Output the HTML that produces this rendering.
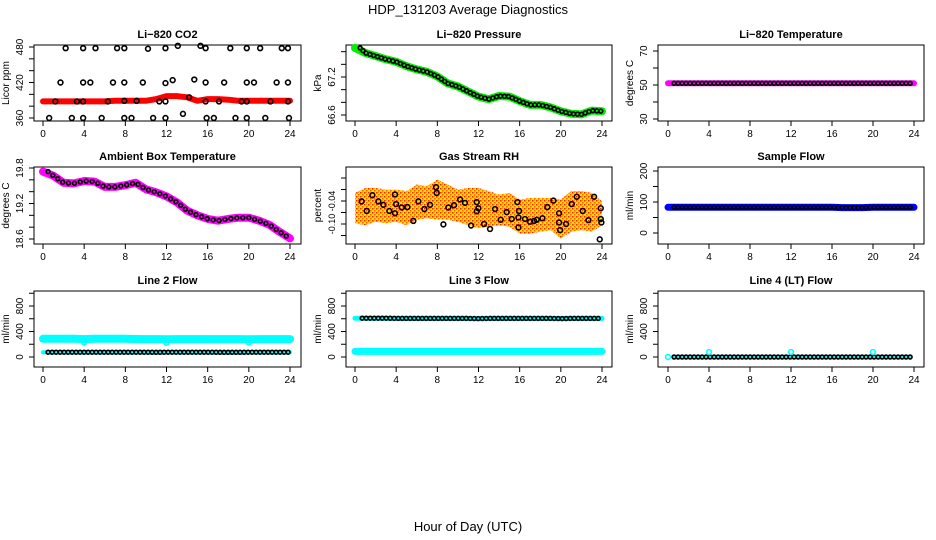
<!DOCTYPE html>
<html><head><meta charset="utf-8"><style>
body{margin:0;background:#fff}
svg{display:block;font-family:"Liberation Sans",sans-serif}
</style></head><body>
<svg id="c" width="936" height="540" viewBox="0 0 936 540">
<defs>
<pattern id="rhpat" width="4" height="4" patternUnits="userSpaceOnUse"><rect width="4" height="4" fill="#ffe000"/><rect x="0" y="0" width="1.5" height="1.5" fill="#ff2000"/><rect x="2" y="2" width="1.5" height="1.5" fill="#ff6000"/><rect x="2" y="0" width="1" height="1" fill="#ffa000"/></pattern>
</defs>
<text x="468" y="14" font-size="13" text-anchor="middle">HDP_131203  Average Diagnostics</text>
<text x="468" y="531" font-size="13" text-anchor="middle">Hour of Day (UTC)</text>
</svg>
<script>
// ---------- data ----------
const hours = [0,1,2,3,4,5,6,7,8,9,10,11,12,13,14,15,16,17,18,19,20,21,22,23,24];
const co2Band = [388,388,388,388,388,388,388,389,389,389,389,392,397,397,395,389,392,392,391,389,389,389,389,389,389];
const co2PtsH = [2.2,3.9,5.1,7.2,7.9,10.2,11.9,13.1,15.3,15.8,18.2,19.8,21.1,23.2,23.8, 1.7,3.9,4.6,6.8,7.9,9.7,11.9,12.6,14.7,15.8,17.6,19.8,20.5,22.7,23.8, 1.2,3.3,3.9,6.3,7.9,9.1,11.3,11.9,14.2,15.8,17.1,19.3,19.8,22.1,23.8, 0.6,2.8,3.9,5.7,7.9,8.6,10.7,11.9,13.6,15.9,16.6,18.7,19.8,21.6,23.9];
const co2PtsV = [478,478,478,478,478,477,478,482,482,478,478,478,478,478,478, 420,420,420,420,420,420,419,424,425,420,420,420,420,420,420, 388,388,388,388,389,389,388,388,395,388,388,388,388,388,388, 360,360,360,360,360,360,360,360,367,360,360,360,360,360,360];
const pressure = [67.66,67.58,67.53,67.48,67.44,67.37,67.32,67.28,67.21,67.10,67.05,66.97,66.89,66.85,66.90,66.89,66.82,66.76,66.76,66.72,66.66,66.62,66.61,66.67,66.66];
const liTemp = [51,51,51,51,51,51,51,51,51,51,51,51,51,51,51,51,51,51,51,51,51,51,51,51,51];
const ambient = [19.74,19.67,19.55,19.54,19.58,19.57,19.48,19.48,19.51,19.55,19.44,19.39,19.32,19.22,19.08,19.00,18.94,18.91,18.94,18.96,18.96,18.91,18.84,18.72,18.61];
const rhUpper = [-0.019,-0.006,-0.006,-0.010,-0.010,-0.014,0.003,-0.001,0.016,0.003,-0.010,-0.006,-0.006,-0.014,-0.023,-0.019,-0.036,-0.032,-0.032,-0.032,-0.036,-0.014,-0.014,-0.019,-0.041];
const rhLower = [-0.098,-0.103,-0.094,-0.098,-0.094,-0.103,-0.089,-0.085,-0.089,-0.089,-0.094,-0.103,-0.111,-0.107,-0.103,-0.107,-0.125,-0.125,-0.120,-0.116,-0.138,-0.120,-0.116,-0.120,-0.103];
const rhPtsH = [0.65,1.14,1.69,2.27,2.76,3.34,3.89,3.89,3.99,4.54,5.09,5.67,6.16,6.74,7.29,7.87,7.94,8.59,9.07,9.62,10.21,10.69,11.28,11.83,11.83,11.99,12.54,13.12,13.61,14.16,14.74,15.23,15.78,15.88,15.94,15.88,16.52,17.01,17.40,17.66,18.21,18.69,19.28,19.83,19.83,19.93,20.51,21.06,21.55,22.13,22.68,23.23,23.88,23.88,23.94,23.78];
const rhPtsV = [-0.041,-0.066,-0.025,-0.041,-0.050,-0.066,-0.023,-0.072,-0.048,-0.057,-0.056,-0.092,-0.041,-0.061,-0.050,-0.004,-0.019,-0.101,-0.057,-0.051,-0.036,-0.045,-0.104,-0.043,-0.067,-0.059,-0.100,-0.113,-0.061,-0.089,-0.069,-0.087,-0.043,-0.109,-0.066,-0.083,-0.087,-0.094,-0.092,-0.089,-0.085,-0.056,-0.039,-0.072,-0.096,-0.116,-0.100,-0.048,-0.029,-0.066,-0.090,-0.029,-0.059,-0.087,-0.096,-0.140];
const sampleFlow = [83,83,83,83,83,83,83,83,83,83,83,83,83,83,83,83,83,82,82,82,83,83,83,83,83];
const line2Cyan = [285,285,285,285,280,285,285,285,285,283,280,280,278,280,280,280,280,280,280,280,278,280,280,280,280];
const line2Black = [75,75,75,75,75,75,75,75,75,75,75,73,75,75,75,75,75,73,73,73,75,75,75,75,75];
const line3Upper = [608,608,608,608,605,605,605,605,605,605,605,605,603,605,605,605,605,605,605,605,603,605,605,605,605];
const line3Lower = [88,88,88,88,88,88,88,88,88,88,88,88,88,88,88,88,88,88,88,88,88,88,88,88,88];
const line4Black = [0,0,0,0,0,0,0,0,0,0,0,0,0,0,0,0,0,0,0,0,0,0,0,0,0];
const line4CyanH = [0,4,12,20];
const line4CyanV = [0,78,78,78];
const line2DipH = [4,12,20];
const line2DipV = [230,225,228];
const xTicks = [0,4,8,12,16,20,24];

// ---------- drawing ----------
const svg = document.getElementById('c');
const NS = 'http://www.w3.org/2000/svg';
function mk(tag, at, parent){const e=document.createElementNS(NS,tag);for(const k in at)e.setAttribute(k,at[k]);(parent||svg).appendChild(e);return e;}
const cols=[{bl:34,br:301,x0:43,x1:290},{bl:346,br:612,x0:355,x1:602},{bl:658,br:924,x0:668,x1:914}];
const rows=[{bt:45,bb:121,ty:38},{bt:167,bb:244,ty:160},{bt:291,bb:367,ty:284}];

function panel(name,c,r,title,ylab,ya,ticks,labels,lfs){
  const C=cols[c],R=rows[r];
  const g=mk('g',{});
  
  
  const xm=h=>C.x0+(C.x1-C.x0)*h/24;
  const ym=v=>ya[1]+(v-ya[0])*(ya[3]-ya[1])/(ya[2]-ya[0]);
  const t=mk('text',{x:(C.bl+C.br)/2,y:R.ty,'font-size':11,'font-weight':'bold','text-anchor':'middle'},g);t.textContent=title;
  
  
  const box=mk('rect',{x:C.bl,y:R.bt,width:C.br-C.bl,height:R.bb-R.bt,fill:'none',stroke:'#000','stroke-width':1},g);
  
  
  xTicks.forEach(h=>{
    mk('line',{x1:xm(h),x2:xm(h),y1:R.bb,y2:R.bb+5,stroke:'#000'},g);
    const l=mk('text',{x:xm(h),y:R.bb+16,'font-size':10,'text-anchor':'middle'},g);l.textContent=h;
    
    
  });
  ticks.forEach(v=>{
    mk('line',{x1:C.bl-5,x2:C.bl,y1:ym(v),y2:ym(v),stroke:'#000'},g);
  });
  labels.forEach(v=>{
    const x=C.bl-11,y=ym(v);
    const l=mk('text',{x:x,y:y,'font-size':lfs||10,'text-anchor':'middle',transform:`rotate(-90 ${x} ${y})`},g);
    l.textContent=(typeof v==='number'&&Math.abs(v)<1&&v!==0)?v.toFixed(2):v;
    
    
  });
  const yl=mk('text',{x:C.bl-25,y:(R.bt+R.bb)/2,'font-size':10,'text-anchor':'middle',transform:`rotate(-90 ${C.bl-25} ${(R.bt+R.bb)/2})`},g);
  yl.textContent=ylab;
  
  
  return {g,xm,ym};
}
function pts(P,hs,vs){return hs.map((h,i)=>P.xm(h).toFixed(1)+','+P.ym(vs[i]).toFixed(1)).join(' ');}
function band(P,hs,vs,color,w,name){
  const e=mk('polyline',{points:pts(P,hs,vs),fill:'none',stroke:color,'stroke-width':w,'stroke-linejoin':'round','stroke-linecap':'round'},P.g);
  
  
}
function chain(P,hs,vs,inner,gap,name,h0){
  const p=pts(P,hs.map(h=>Math.max(h,h0||0)),vs);
  const a=mk('polyline',{points:p,fill:'none',stroke:'#000','stroke-width':5.5,'stroke-dasharray':'0 '+gap,'stroke-linecap':'round'},P.g);
  
  
  mk('polyline',{points:p,fill:'none',stroke:inner,'stroke-width':2.2,'stroke-dasharray':'0 '+gap,'stroke-linecap':'round'},P.g);
}
function circles(P,hs,vs,color,name){
  hs.forEach((h,i)=>{
    const e=mk('circle',{cx:P.xm(h),cy:P.ym(vs[i]),r:2.4,fill:'none',stroke:color,'stroke-width':1.6},P.g);
    
    
  });
}

let P=panel('co2',0,0,'Li\u2212820 CO2','Licor ppm',[360,118,480,47],[360,380,400,420,440,460,480],[360,420,480]);
band(P,hours,co2Band,'#ff0000',6,'co2-band');
circles(P,co2PtsH,co2PtsV,'#000','co2-point');
P=panel('pressure',1,0,'Li\u2212820 Pressure','kPa',[66.6,115,67.2,77],[66.6,66.8,67.0,67.2,67.4,67.6],['66.6','67.2']);
band(P,hours,pressure,'#00ee00',8,'pressure-band');
chain(P,hours,pressure,'#00ee00',4,'pressure-points',0.5);
P=panel('li-temp',2,0,'Li\u2212820 Temperature','degrees C',[30,119,70,51],[30,40,50,60,70],[30,50,70]);
band(P,hours,liTemp,'#ff00ff',6,'li-temp-band');
chain(P,hours,liTemp,'#ff00ff',4,'li-temp-points',0.6);
P=panel('ambient',0,1,'Ambient Box Temperature','degrees C',[18.6,239,19.8,168],[18.6,18.8,19.0,19.2,19.4,19.6,19.8],['18.6','19.2','19.8']);
band(P,hours,ambient,'#ff00ff',8,'ambient-band');
chain(P,hours,ambient,'#ff00ff',6,'ambient-points',0.5);
P=panel('gas-rh',1,1,'Gas Stream RH','percent',[-0.04,201,-0.10,224],[-0.13,-0.10,-0.07,-0.04,-0.01,0.02],[-0.10,-0.04],9);
{
  const up=hours.map((h,i)=>P.xm(h).toFixed(1)+','+P.ym(rhUpper[i]).toFixed(1));
  const lo=hours.map((h,i)=>P.xm(h).toFixed(1)+','+P.ym(rhLower[i]).toFixed(1)).reverse();
  const e=mk('polygon',{points:up.concat(lo).join(' '),fill:'url(#rhpat)'},P.g);
  
  
}
circles(P,rhPtsH,rhPtsV,'#000','rh-point');
P=panel('sample-flow',2,1,'Sample Flow','ml/min',[0,233,200,171],[0,50,100,150,200],[0,100,200]);
band(P,hours,sampleFlow,'#0000ff',7,'sample-flow-band');
chain(P,hours,sampleFlow,'#0000ff',4,'sample-flow-points',0.6);
P=panel('line2',0,2,'Line 2 Flow','ml/min',[0,357,800,306],[0,200,400,600,800,1000],[0,400,800]);
band(P,hours,line2Cyan,'#00ffff',8,'line2-cyan-band');
circles(P,line2DipH,line2DipV,'#00ffff','line2-dip');
band(P,hours,line2Black,'#00ffff',4,'line2-low-band');
chain(P,hours,line2Black,'#00ffff',4,'line2-points',0.5);
P=panel('line3',1,2,'Line 3 Flow','ml/min',[0,357,800,306],[0,200,400,600,800,1000],[0,400,800]);
band(P,hours,line3Lower,'#00ffff',7,'line3-low-band');
band(P,hours,line3Upper,'#00ffff',5,'line3-high-band');
chain(P,hours,line3Upper,'#00ffff',4,'line3-points',0.7);
P=panel('line4',2,2,'Line 4 (LT) Flow','ml/min',[0,357,800,306],[0,200,400,600,800,1000],[0,400,800]);
chain(P,hours,line4Black,'#00ffff',4,'line4-points',0.6);
circles(P,line4CyanH,line4CyanV,'#00ffff','line4-cyan-point');
</script>
</body></html>
